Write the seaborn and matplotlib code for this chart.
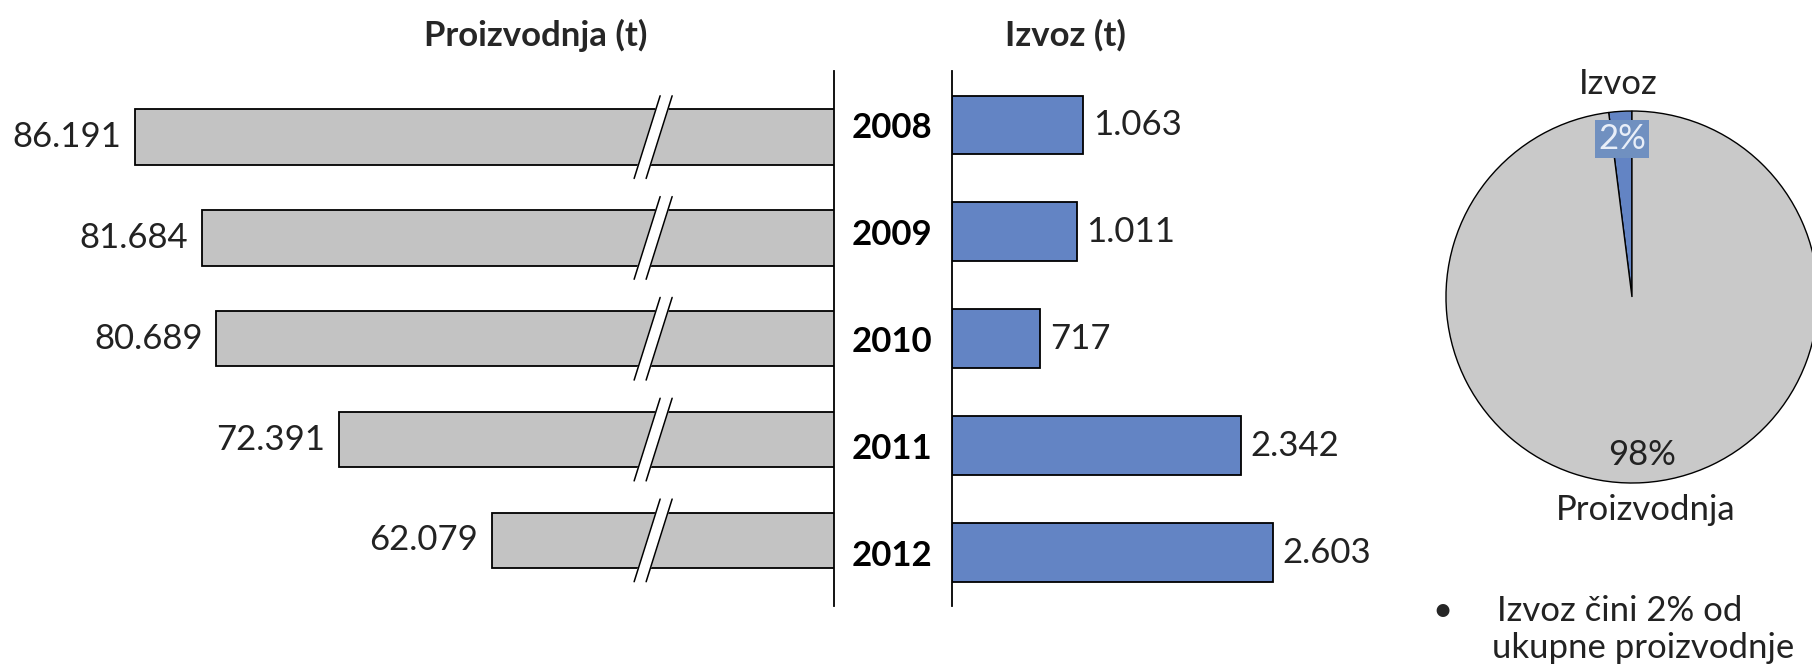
import numpy as np
import pandas as pd
import seaborn as sns
import matplotlib.pyplot as plt

# data
years = ["2008", "2009", "2010", "2011", "2012"]
proizvodnja = [86191, 81684, 80689, 72391, 62079]
izvoz = [1063, 1011, 717, 2342, 2603]
pie_labels = ["Izvoz", "Proizvodnja"]
pie_share = [2, 98]
note_lines = ["Izvoz čini 2% od", "ukupne proizvodnje"]

GREY = "#c3c3c3"
BLUE = "#6384c4"
PIE_GREY = "#c9c9c9"
BREAK_AT = 51200   # where the broken-axis marks sit (t)

sns.set_style("white")
plt.rcParams["font.family"] = ["Lato", "DejaVu Sans"]
FS = 25

def fmt(v):
    return f"{v:,}".replace(",", ".")

df = pd.DataFrame({"godina": years, "proizvodnja": proizvodnja, "izvoz": izvoz})

fig = plt.figure(figsize=(18.12, 6.70), dpi=100)
ax1 = fig.add_axes([0.0, 0.0955, 0.4603, 0.7978])
ax2 = fig.add_axes([0.5254, 0.0955, 0.2472, 0.7978])
ax3 = fig.add_axes([0.798, 0.2791, 0.2053, 0.5552])

# left: production (reversed, broken axis)
sns.barplot(data=df, x="proizvodnja", y="godina", orient="h", color=GREY,
            saturation=1, edgecolor="black", linewidth=1.3, width=0.55, ax=ax1)
ax1.set_xlim(95309, 38981)
ax1.bar_label(ax1.containers[0], labels=[fmt(v) for v in proizvodnja],
              padding=10, fontsize=FS, color="#222222")
for s in ["top", "left", "bottom"]:
    ax1.spines[s].set_visible(False)
ax1.spines["right"].set_color("black")
ax1.spines["right"].set_linewidth(1.3)
ax1.set_xticks([])
ax1.set_yticks([])
ax1.set_xlabel("")
ax1.set_ylabel("")

# break marks "//" across each grey bar
px = 67.54  # t per pixel on the left axis
for i in range(len(years)):
    lo, hi = i + 0.41, i - 0.41
    xs_c = [BREAK_AT + 13 * px, BREAK_AT - 13 * px]
    left = [x + 6 * px for x in xs_c]
    right = [x - 6 * px for x in xs_c]
    ax1.fill([left[0], left[1], right[1], right[0]], [lo, hi, hi, lo],
             color="white", zorder=5, clip_on=False)
    ax1.plot(left, [lo, hi], color="black", lw=1.1, zorder=6, clip_on=False)
    ax1.plot(right, [lo, hi], color="black", lw=1.1, zorder=6, clip_on=False)

# right: export
sns.barplot(data=df, x="izvoz", y="godina", orient="h", color=BLUE,
            saturation=1, edgecolor="black", linewidth=1.3, width=0.55, ax=ax2)
ax2.set_xlim(0, 3636)
ax2.bar_label(ax2.containers[0], labels=[fmt(v) for v in izvoz],
              padding=7, fontsize=FS, color="#222222")
for s in ["top", "right", "bottom"]:
    ax2.spines[s].set_visible(False)
ax2.spines["left"].set_color("black")
ax2.spines["left"].set_linewidth(1.3)
ax2.set_xticks([])
ax2.tick_params(axis="y", length=0, pad=14)
for t in ax2.get_yticklabels():
    t.set_fontsize(FS)
    t.set_fontweight("bold")
    t.set_color("black")
ax2.set_xlabel("")
ax2.set_ylabel("")

fig.text(536 / 1812, 1 - 35 / 670, "Proizvodnja (t)", ha="center", va="center",
         fontsize=FS, fontweight="bold")
fig.text(1065 / 1812, 1 - 35 / 670, "Izvoz (t)", ha="center", va="center",
         fontsize=FS, fontweight="bold")

# pie
wedges, texts, autotexts = ax3.pie(pie_share, labels=pie_labels, colors=[BLUE, PIE_GREY],
                                   startangle=90, counterclock=True,
                                   labeldistance=1.15, autopct="%d%%", pctdistance=0.85,
                                   wedgeprops=dict(edgecolor="black", linewidth=1.0),
                                   textprops=dict(fontsize=FS, color="#222222"))
for t in texts:
    t.set_ha("center")
autotexts[0].set_color("#e8eef8")
autotexts[0].set_bbox(dict(facecolor="#7090c0", edgecolor="none", pad=2))
ax3.set_xlim(-1, 1)
ax3.set_ylim(-1, 1)
ax3.set_aspect("auto")

fig.text(1442 / 1812, 1 - 611 / 670, "•", ha="center", va="center", fontsize=FS)
fig.text(1497 / 1812, 1 - 611 / 670, note_lines[0], ha="left", va="center", fontsize=FS,
         color="#222222")
fig.text(1492 / 1812, 1 - 648 / 670, note_lines[1], ha="left", va="center", fontsize=FS,
         color="#222222")

fig.savefig("out.png", dpi=100, facecolor="white")
